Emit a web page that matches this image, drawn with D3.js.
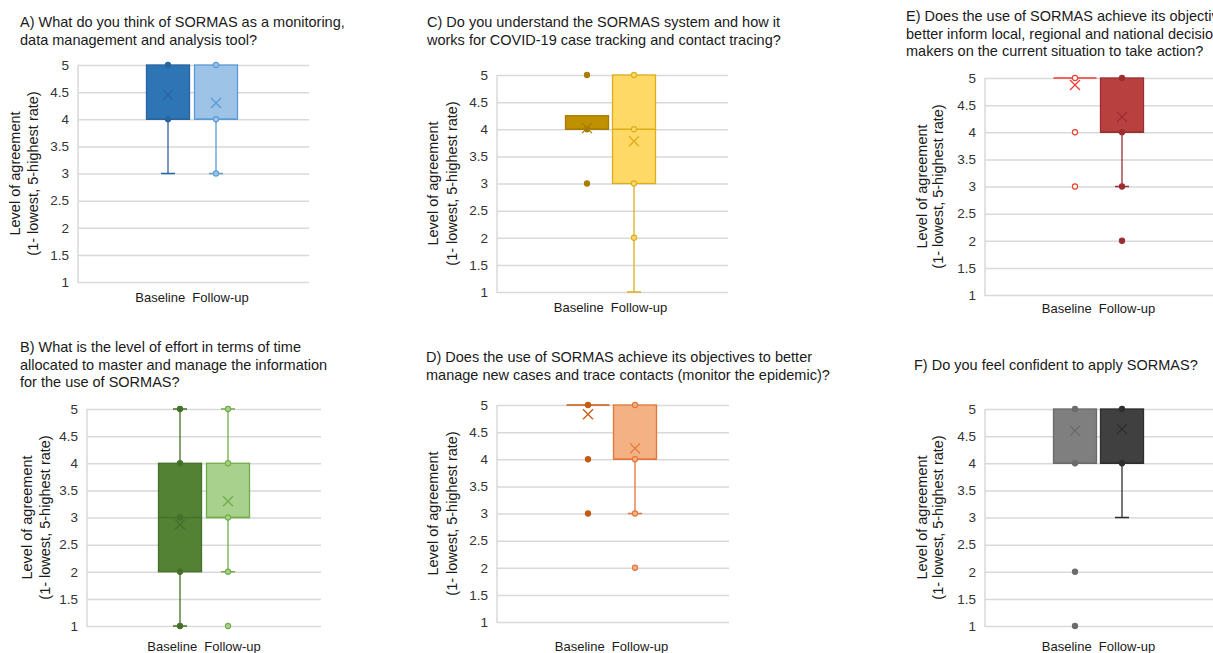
<!DOCTYPE html>
<html>
<head>
<meta charset="utf-8">
<script src="https://cdn.jsdelivr.net/npm/d3@7"></script>
<style>
  body { margin: 0; background: #fff; overflow: hidden; }
  text { font-family: "Liberation Sans", Arial, sans-serif; }
</style>
</head>
<body>
<svg id="chart" width="1213" height="653"></svg>
<script>
// data, one entry per panel (A..F), each entry = [Baseline, Follow-up]
const panelIds = ["A", "B", "C", "D", "E", "F"];
const titles = [
  ["A) What do you think of SORMAS as a monitoring,", "data management and analysis tool?"],
  ["B) What is the level of effort in terms of time", "allocated to master and manage the information", "for the use of SORMAS?"],
  ["C) Do you understand the SORMAS system and how it", "works for COVID-19 case tracking and contact tracing?"],
  ["D) Does the use of SORMAS achieve its objectives to better", "manage new cases and trace contacts (monitor the epidemic)?"],
  ["E) Does the use of SORMAS achieve its objectives to", "better inform local, regional and national decision", "makers on the current situation to take action?"],
  ["F) Do you feel confident to apply SORMAS?"]
];
const seriesNames = ["Baseline", "Follow-up"];
const yTicks = [1, 1.5, 2, 2.5, 3, 3.5, 4, 4.5, 5];
const axisTitle = ["Level of agreement", "(1- lowest, 5-highest rate)"];

const q1 = [[4, 4], [2, 3], [4, 3], [5, 4], [5, 4], [4, 4]];
const median = [[4, 4], [3, 3], [4, 4], [5, 4], [5, 4], [4, 4]];
const q3 = [[5, 5], [4, 4], [4.25, 5], [5, 5], [5, 5], [5, 5]];
const whiskerLow = [[3, 3], [1, 2], [4, 1], [5, 3], [5, 3], [4, 3]];
const whiskerHigh = [[5, 5], [5, 5], [4.25, 5], [5, 5], [5, 5], [5, 5]];
const means = [[4.45, 4.3], [2.87, 3.3], [4.02, 3.78], [4.83, 4.2], [4.87, 4.28], [4.6, 4.63]];
const points = [
  [[5, 4], [5, 4, 3]],
  [[5, 4, 3, 2, 1], [5, 4, 3, 2, 1]],
  [[5, 4, 3], [5, 4, 3, 2]],
  [[5, 4, 3], [5, 4, 3, 2]],
  [[5, 4, 3], [5, 4, 3, 2]],
  [[5, 4, 2, 1], [5, 4]]
];

// colours
const boxFill = [["#2e75b6", "#9dc3e6"], ["#548235", "#a9d18e"], ["#bf9000", "#ffd966"],
                 ["none", "#f4b183"], ["none", "#b8413f"], ["#7f7f7f", "#404040"]];
const boxStroke = [["#2a64a0", "#5b9bd5"], ["#44702a", "#70ad47"], ["#a67d00", "#dcae1d"],
                   ["#c55a11", "#e2763a"], ["#f03c2e", "#9a2e31"], ["#6b6b6b", "#2e2e2e"]];
const dotFill = [["#2a64a0", "#9dc3e6"], ["#44702a", "#a9d18e"], ["#a67d00", "#ffd966"],
                 ["#c55a11", "#f4b183"], ["#ffffff", "#9a2e31"], ["#6b6b6b", "#2e2e2e"]];

// panel placement
const layout = [
  {tx: 20,  ty: 27,  top: 65,  bottom: 282, left: 78,  right: 309,  c: [168, 216],   cat: 302, at: [15, 33]},
  {tx: 20,  ty: 352, top: 409, bottom: 626, left: 87,  right: 321,  c: [180, 228],   cat: 651, at: [27, 45]},
  {tx: 427, ty: 27,  top: 75,  bottom: 292, left: 497, right: 728,  c: [587, 634],   cat: 312, at: [433, 452]},
  {tx: 426, ty: 362, top: 405, bottom: 622, left: 497, right: 729,  c: [588, 635],   cat: 651, at: [433, 452]},
  {tx: 906, ty: 21,  top: 78,  bottom: 295, left: 985, right: 1220, c: [1075, 1122], cat: 313, at: [922, 938]},
  {tx: 914, ty: 370, top: 409, bottom: 626, left: 985, right: 1220, c: [1075, 1122], cat: 651, at: [922, 938]}
];

const boxW = 43;
const svg = d3.select("#chart");

panelIds.forEach((id, p) => {
  const L = layout[p];
  const g = svg.append("g").attr("class", "panel-" + id);

  // title
  g.append("text")
    .attr("x", L.tx).attr("y", L.ty)
    .attr("font-size", 14.5).attr("fill", "#1a1a1a")
    .selectAll("tspan")
    .data(titles[p])
    .enter()
    .append("tspan")
    .attr("x", L.tx)
    .attr("dy", (d, i) => i === 0 ? 0 : 17.7)
    .text(d => d);

  const y = d3.scaleLinear().domain([1, 5]).range([L.bottom, L.top]);
  const x = d3.scalePoint().domain(seriesNames).range(L.c);

  // grid + tick labels
  const ax = g.append("g")
    .attr("transform", "translate(" + L.left + ",0)")
    .call(d3.axisLeft(y).tickValues(yTicks).tickSize(-(L.right - L.left)).tickPadding(9).tickFormat(d => d));
  ax.select(".domain").remove();
  ax.selectAll(".tick line").attr("stroke", "#d9d9d9").attr("stroke-width", 1.5);
  ax.selectAll(".tick text").attr("font-size", 13.5).attr("fill", "#333")
    .style("font-family", "'Liberation Sans', Arial, sans-serif");
  g.append("line")
    .attr("x1", L.left).attr("x2", L.left)
    .attr("y1", y(5)).attr("y2", y(1) + 1)
    .attr("stroke", "#d9d9d9").attr("stroke-width", 1.5);

  // axis title
  const mid = (L.top + L.bottom) / 2;
  axisTitle.forEach((t, i) => {
    g.append("text")
      .attr("transform", "translate(" + (L.at[i] + 5) + "," + mid + ") rotate(-90)")
      .attr("text-anchor", "middle")
      .attr("font-size", 14.5).attr("fill", "#1a1a1a")
      .text(t);
  });

  // category label
  g.append("text")
    .attr("x", (L.c[0] + L.c[1]) / 2).attr("y", L.cat)
    .attr("text-anchor", "middle")
    .attr("font-size", 13).attr("fill", "#1a1a1a")
    .style("white-space", "pre")
    .text(seriesNames.join("  "));

  seriesNames.forEach((s, k) => {
    const cx = x(s);
    const col = boxStroke[p][k];
    const sg = g.append("g");

    // whiskers
    [[q1[p][k], whiskerLow[p][k]], [q3[p][k], whiskerHigh[p][k]]].forEach(([from, to]) => {
      if (from === to) return;
      sg.append("line")
        .attr("x1", cx).attr("x2", cx)
        .attr("y1", y(from)).attr("y2", y(to))
        .attr("stroke", col).attr("stroke-width", 1.3);
      sg.append("line")
        .attr("x1", cx - 7).attr("x2", cx + 7)
        .attr("y1", y(to)).attr("y2", y(to))
        .attr("stroke", col).attr("stroke-width", 1.5);
    });

    // box
    sg.append("rect")
      .attr("x", cx - boxW / 2)
      .attr("y", y(q3[p][k]))
      .attr("width", boxW)
      .attr("height", Math.max(0, y(q1[p][k]) - y(q3[p][k])))
      .attr("fill", boxFill[p][k])
      .attr("stroke", col).attr("stroke-width", 1.3);

    // median
    sg.append("line")
      .attr("x1", cx - boxW / 2).attr("x2", cx + boxW / 2)
      .attr("y1", y(median[p][k])).attr("y2", y(median[p][k]))
      .attr("stroke", col).attr("stroke-width", 1.5);

    // points
    sg.selectAll("circle")
      .data(points[p][k])
      .enter()
      .append("circle")
      .attr("cx", cx).attr("cy", d => y(d))
      .attr("r", 2.6)
      .attr("fill", dotFill[p][k])
      .attr("stroke", col).attr("stroke-width", 1.1);

    // mean marker
    const my = y(means[p][k]);
    sg.append("path")
      .attr("d", "M" + (cx - 5) + "," + (my - 5) + "L" + (cx + 5) + "," + (my + 5) +
                 "M" + (cx - 5) + "," + (my + 5) + "L" + (cx + 5) + "," + (my - 5))
      .attr("stroke", col).attr("stroke-width", 1.3).attr("fill", "none");
  });
});
</script>
</body>
</html>
